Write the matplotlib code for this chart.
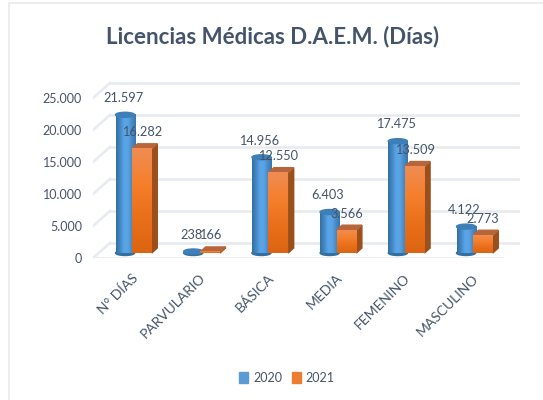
import numpy as np
import matplotlib
matplotlib.use('Agg')
import matplotlib.pyplot as plt
from matplotlib.colors import LinearSegmentedColormap
from matplotlib.lines import Line2D
from matplotlib.patches import Ellipse, Patch, Polygon
from matplotlib.transforms import Affine2D

categories = ["N° DÍAS", "PARVULARIO", "BÁSICA", "MEDIA", "FEMENINO", "MASCULINO"]
values_2020 = [21597, 238, 14956, 6403, 17475, 4122]
values_2021 = [16282, 166, 12550, 3566, 13509, 2773]
y_ticks = [0, 5000, 10000, 15000, 20000, 25000]
y_tick_labels = ["0", "5.000", "10.000", "15.000", "20.000", "25.000"]

text_col = "#44546a"
grid_col = "#e7eaef"

plt.rcParams['font.family'] = ['Lato', 'DejaVu Sans']

W, H = 543, 400
fig = plt.figure(figsize=(W / 100, H / 100), dpi=100)
ax = fig.add_axes([93 / W, (H - 258) / H, 427 / W, 208 / H])

px_x = 68.2  # pixels per category
px_y = 0.0064  # pixels per day


def shift(dx, dy):
    return ax.transData + Affine2D().translate(dx, dy)


# chart frame, only top and left show
fig.add_artist(Line2D([9 / W, 9 / W, 1], [0, 1 - 3 / H, 1 - 3 / H], color=grid_col, lw=1.2))

# back wall + side wall
back = shift(17, 15)
for v in y_ticks:
    ax.plot([0, 6], [v, v], color=grid_col, lw=1.8, transform=back, zorder=1)
    ax.plot([0, 17 / px_x], [v, v + 15 / px_y], color=grid_col, lw=1.8, zorder=1)
ax.plot([0, 6], [0, 0], color=grid_col, lw=1.8, zorder=1)

blue_map = LinearSegmentedColormap.from_list("b", ["#34709f", "#4287c4", "#5aa5e8", "#5aa3e4", "#4a8ac6", "#3877ad"])
orange_map = LinearSegmentedColormap.from_list("o", ["#f08c52", "#f57f2c", "#e96f1a", "#dd6412"])

blue_w = 0.28
orange_w = 0.29
base = shift(0, 5)  # bars stand a bit behind the front edge
up = 5 / px_y
across = 5.5 / px_x

for i, (v1, v2) in enumerate(zip(values_2020, values_2021)):
    # cylinder for 2020
    cx = i + 0.47
    ax.add_patch(Ellipse((cx, 0), blue_w, 5 / px_y, color="#34709f", transform=base, zorder=3))
    ax.imshow(np.linspace(0, 1, 40).reshape(1, -1), cmap=blue_map, aspect='auto',
              extent=[cx - blue_w / 2, cx + blue_w / 2, 0, v1], transform=base, zorder=3)
    ax.add_patch(Ellipse((cx, v1), blue_w, 5 / px_y, color="#3f7fb8", transform=base, zorder=3))

    # box for 2021
    x0 = i + 0.572
    x1 = x0 + orange_w
    ax.add_patch(Polygon([[x1, 0], [x1 + across, up], [x1 + across, v2 + up], [x1, v2]],
                         color="#99501c", transform=base, zorder=4))
    ax.add_patch(Polygon([[x0, v2], [x1, v2], [x1 + across, v2 + up], [x0 + across, v2 + up]],
                         color="#b9653a", transform=base, zorder=4))
    ax.imshow(np.linspace(0, 1, 40).reshape(-1, 1), cmap=orange_map, aspect='auto',
              extent=[x0, x1, 0, v2], transform=base, zorder=5)

    ax.annotate(f"{v1:,}".replace(",", "."), (i + 0.44, v1), xycoords=base, xytext=(0, 12), textcoords='offset points',
                ha='center', va='center', color=text_col, fontsize=9.2, zorder=6)
    ax.annotate(f"{v2:,}".replace(",", "."), (i + 0.715, v2), xycoords=base, xytext=(0, 12), textcoords='offset points',
                ha='center', va='center', color=text_col, fontsize=9.2, zorder=6)

ax.set_xlim(0, 427 / px_x)
ax.set_ylim(0, 208 / px_y)
for s in ax.spines.values():
    s.set_visible(False)

ax.set_yticks(y_ticks)
ax.set_yticklabels(y_tick_labels, color=text_col, fontsize=9)
ax.set_xticks([i + 0.56 for i in range(len(categories))])
ax.set_xticklabels(categories, color=text_col, fontsize=10, rotation=45, ha='right',
                   va='top', rotation_mode='anchor')
ax.tick_params(axis='y', length=0, pad=8)
ax.tick_params(axis='x', length=0, pad=10)

fig.text(273 / W, 1 - 37 / H, "Licencias Médicas D.A.E.M. (Días)", ha='center', va='center',
         color=text_col, fontsize=16, fontweight='bold')

handles = [Patch(color="#5b9bd5", label="2020"), Patch(color="#ed7d31", label="2021")]
fig.legend(handles=handles, loc='center', bbox_to_anchor=(287 / W, 1 - 378 / H), ncol=2, frameon=False,
           fontsize=9, labelcolor=text_col, handlelength=0.7, handleheight=1.0, handletextpad=0.4,
           columnspacing=0.8)

fig.savefig('out.png', dpi=100)
